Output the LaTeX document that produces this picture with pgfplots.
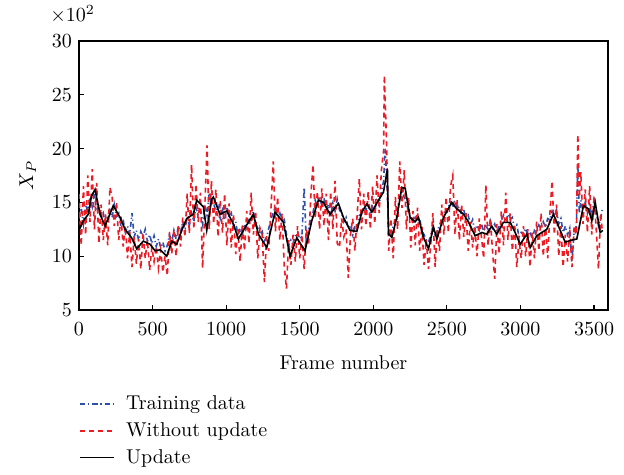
\documentclass[border=0pt]{standalone}
\usepackage{pgfplots}
\pgfplotsset{compat=1.18}
\definecolor{cred}{RGB}{237,28,36}
\definecolor{cblue}{RGB}{45,80,175}
\begin{document}
\begin{tikzpicture}
\begin{axis}[
  at={(0pt,0pt)}, anchor=south west,
  scale only axis, width=264.5pt, height=134.5pt,
  xmin=0, xmax=3595, ymin=5, ymax=30,
  xtick={0,500,1000,1500,2000,2500,3000,3500},
  ytick={5,10,15,20,25,30},
  /pgf/number format/1000 sep={},
  tick align=inside, xtick pos=left, ytick pos=left,
  major tick length=2.5pt,
  axis line style={line width=0.8pt},
  tick style={line width=0.6pt,black},
  xticklabel style={yshift=-3pt},
  xlabel={Frame number}, ylabel={$X_P$},
  xlabel style={yshift=-3pt},
  ylabel style={yshift=1pt},
  legend cell align=left,
  legend style={draw=none, at={(axis description cs:0,0)}, anchor=north west, yshift=-38.5pt, xshift=-3pt, row sep=1pt, font=\normalsize},
]
\addplot[cblue, line width=0.8pt, dash pattern=on 2.5pt off 1.5pt on 0.6pt off 1.5pt] coordinates {
(0,13.5)(15,14.5)(30,13.0)(45,14.8)(60,14.2)(75,15.5)(90,14.6)(105,15.8)(120,14.2)(135,14.8)(150,13.5)(165,14.0)(180,12.9)(195,13.8)(210,14.3)(225,13.6)(240,14.8)(255,13.7)(270,14.0)(285,12.8)(300,13.4)(315,12.2)(330,12.8)(345,12.0)(360,14.0)(375,11.8)(390,12.4)(405,11.5)(420,12.3)(435,11.8)(450,12.5)(465,11.4)(480,12.0)(495,11.2)(510,11.9)(525,10.9)(540,11.6)(555,10.8)(570,11.3)(585,10.5)(600,11.0)(615,12.0)(630,11.3)(645,12.4)(660,11.6)(675,12.8)(690,12.2)(705,13.2)(720,12.5)(735,13.6)(750,12.9)(765,14.0)(780,13.2)(795,14.5)(810,13.8)(825,14.2)(840,13.0)(855,14.8)(870,13.8)(885,15.9)(900,14.8)(915,15.0)(930,14.0)(945,14.6)(960,13.5)(975,14.3)(990,13.4)(1005,14.6)(1020,13.6)(1035,14.0)(1050,12.8)(1065,13.2)(1080,11.9)(1095,12.6)(1110,12.0)(1125,13.0)(1140,12.4)(1155,13.6)(1170,13.2)(1185,14.2)(1200,13.0)(1215,12.6)(1230,12.0)(1245,12.3)(1260,11.4)(1275,11.8)(1290,12.6)(1305,13.5)(1320,14.0)(1335,14.6)(1350,13.7)(1365,14.0)(1380,13.2)(1395,13.4)(1410,12.0)(1425,11.0)(1440,11.5)(1455,11.2)(1470,11.9)(1485,12.2)(1500,11.6)(1515,11.9)(1530,16.4)(1545,11.2)(1560,12.5)(1575,13.5)(1590,14.0)(1605,15.2)(1620,14.6)(1635,15.6)(1650,14.7)(1665,15.4)(1680,14.3)(1695,14.8)(1710,13.6)(1725,14.9)(1740,14.2)(1755,15.3)(1770,14.3)(1785,14.0)(1800,13.2)(1815,13.6)(1830,12.6)(1845,12.9)(1860,12.0)(1875,12.8)(1890,12.4)(1905,13.8)(1920,13.9)(1935,14.6)(1950,14.3)(1965,15.0)(1980,14.0)(1995,14.6)(2010,14.2)(2025,15.4)(2040,14.8)(2055,16.0)(2070,17.0)(2080,20.0)(2090,17.5)(2105,12.5)(2120,12.0)(2135,12.8)(2150,13.3)(2165,14.2)(2180,15.5)(2195,16.0)(2210,15.5)(2225,15.0)(2240,14.0)(2255,13.8)(2270,13.0)(2285,13.6)(2300,13.2)(2315,13.5)(2330,12.4)(2345,12.0)(2360,11.5)(2375,11.3)(2390,11.9)(2405,12.8)(2420,12.0)(2435,12.3)(2450,12.9)(2465,13.4)(2480,13.8)(2495,14.3)(2510,14.6)(2525,15.0)(2540,14.7)(2555,15.2)(2570,14.4)(2585,14.6)(2600,13.8)(2615,14.3)(2630,13.5)(2645,13.8)(2660,12.9)(2675,13.4)(2690,12.3)(2705,12.9)(2720,12.4)(2735,13.0)(2750,12.3)(2765,12.8)(2780,12.5)(2795,13.3)(2810,12.6)(2825,13.0)(2840,12.2)(2855,12.8)(2870,13.3)(2885,13.8)(2900,13.2)(2915,13.9)(2930,13.4)(2945,13.6)(2960,12.5)(2975,12.9)(2990,11.8)(3005,12.2)(3020,12.0)(3035,12.6)(3050,11.9)(3065,12.3)(3080,11.6)(3095,12.4)(3110,12.2)(3125,12.9)(3140,12.6)(3155,13.2)(3170,12.7)(3185,13.5)(3200,13.4)(3215,14.2)(3230,13.8)(3245,14.3)(3260,13.0)(3275,13.5)(3290,12.2)(3305,12.8)(3320,12.0)(3335,12.6)(3350,9.5)(3365,12.3)(3380,12.8)(3390,18.6)(3400,14.0)(3410,15.2)(3425,14.3)(3440,15.0)(3455,14.0)(3470,14.8)(3485,13.6)(3500,15.2)(3515,14.0)(3530,12.8)(3545,13.5)(3555,14.3)
};
\addlegendentry{\hspace{3.5pt}Training data}
\addplot[cred, line width=0.8pt, dash pattern=on 2.5pt off 2pt] coordinates {
(0,15.8)(15,11.0)(30,16.5)(45,12.0)(60,17.5)(75,13.2)(90,18.1)(105,12.5)(120,16.8)(135,11.2)(150,14.8)(165,11.5)(180,13.9)(195,11.0)(210,16.4)(225,15.5)(240,12.8)(255,15.0)(270,11.5)(285,13.8)(300,10.9)(315,12.8)(330,9.8)(345,12.3)(360,9.0)(375,11.8)(390,9.3)(405,11.6)(420,8.8)(435,12.2)(450,9.8)(465,11.5)(480,8.7)(495,10.8)(510,9.5)(525,10.9)(540,8.9)(555,10.6)(570,8.5)(585,10.0)(600,8.2)(615,12.2)(630,10.2)(645,12.5)(660,10.0)(675,12.8)(690,10.9)(705,13.6)(720,11.8)(735,15.8)(750,12.1)(765,18.5)(780,12.5)(795,16.7)(810,13.2)(825,15.9)(840,8.9)(855,14.5)(870,20.3)(885,12.5)(900,17.0)(915,13.0)(930,16.2)(945,11.8)(960,15.2)(975,12.2)(990,15.8)(1005,11.0)(1020,14.9)(1035,10.8)(1050,13.9)(1065,10.2)(1080,12.5)(1095,9.5)(1110,13.0)(1125,10.5)(1140,14.2)(1155,11.2)(1170,15.9)(1185,12.0)(1200,14.2)(1215,9.8)(1230,12.6)(1245,12.0)(1260,7.6)(1275,11.9)(1290,10.5)(1305,14.5)(1320,18.8)(1335,12.3)(1350,15.5)(1365,11.5)(1380,14.0)(1395,9.0)(1410,7.0)(1425,11.5)(1440,9.2)(1455,12.0)(1470,9.5)(1485,12.8)(1500,9.8)(1515,12.0)(1530,8.8)(1545,12.5)(1560,11.0)(1575,15.5)(1590,18.5)(1605,13.5)(1620,16.0)(1635,12.5)(1650,16.3)(1665,12.8)(1680,15.8)(1695,11.5)(1710,16.0)(1725,12.5)(1740,17.0)(1755,11.2)(1770,10.8)(1785,13.5)(1800,11.8)(1815,12.5)(1830,8.0)(1845,12.0)(1860,13.5)(1875,10.5)(1890,13.8)(1905,17.2)(1920,12.5)(1935,15.8)(1950,12.8)(1965,16.0)(1980,12.5)(1995,16.5)(2010,13.0)(2025,17.5)(2040,14.0)(2055,18.0)(2070,19.8)(2075,26.8)(2090,20.5)(2105,10.5)(2120,13.5)(2135,9.8)(2150,15.5)(2165,12.5)(2180,18.8)(2195,14.5)(2210,18.0)(2225,12.5)(2240,15.5)(2255,10.8)(2270,14.2)(2285,11.0)(2300,14.5)(2315,10.5)(2330,12.8)(2345,9.2)(2360,11.5)(2375,8.8)(2390,11.0)(2405,14.0)(2420,9.0)(2435,12.5)(2450,10.5)(2465,14.8)(2480,12.0)(2495,15.5)(2510,12.2)(2525,16.5)(2540,17.5)(2555,12.0)(2570,15.2)(2585,11.5)(2600,14.8)(2615,11.8)(2630,14.0)(2645,10.5)(2660,13.2)(2675,10.8)(2690,12.8)(2705,10.0)(2720,13.5)(2735,11.8)(2750,9.8)(2765,16.6)(2780,11.0)(2795,13.5)(2810,10.5)(2825,7.9)(2840,13.0)(2855,10.2)(2870,14.2)(2885,11.0)(2900,15.9)(2915,11.5)(2930,14.0)(2945,10.5)(2960,13.0)(2975,9.0)(2990,11.5)(3005,9.8)(3020,12.8)(3035,10.0)(3050,12.5)(3065,9.0)(3080,12.2)(3095,9.8)(3110,13.2)(3125,10.5)(3140,14.0)(3155,10.0)(3170,13.0)(3185,9.8)(3200,14.0)(3215,17.0)(3230,12.0)(3245,14.8)(3260,10.0)(3275,12.8)(3290,9.0)(3305,12.0)(3320,9.5)(3335,12.5)(3350,9.0)(3365,12.8)(3380,12.0)(3390,21.3)(3400,15.5)(3410,17.8)(3425,13.0)(3440,16.2)(3455,12.2)(3470,16.5)(3485,12.0)(3500,15.5)(3515,12.5)(3530,8.8)(3545,14.0)(3555,12.5)
};
\addlegendentry{\hspace{3.5pt}Without update}
\addplot[black, line width=0.8pt] coordinates {
(0,12.4)(30,13.3)(63,13.9)(85,15.6)(109,16.2)(143,13.9)(177,12.8)(233,14.7)(279,13.6)(313,12.5)(358,11.7)(392,10.7)(437,11.4)(483,11.1)(517,10.5)(551,10.6)(596,10.0)(630,11.4)(664,11.1)(698,12.4)(732,13.5)(777,13.9)(800,15.2)(845,14.6)(868,12.4)(902,15.3)(913,15.5)(958,13.9)(1004,14.2)(1049,13.0)(1083,11.6)(1117,12.4)(1185,13.9)(1219,12.05)(1276,10.8)(1332,14.1)(1389,13.15)(1434,10.0)(1480,11.7)(1536,10.5)(1582,13.3)(1627,15.2)(1661,15.0)(1706,13.9)(1763,14.9)(1797,13.6)(1842,12.4)(1888,12.3)(1922,14.1)(1956,14.85)(1990,14.1)(2035,15.2)(2069,15.95)(2096,18.1)(2103,12.05)(2126,11.75)(2160,13.6)(2194,16.4)(2217,16.3)(2250,13.6)(2284,13.2)(2307,13.6)(2341,11.75)(2375,10.7)(2409,12.7)(2432,11.6)(2477,13.6)(2533,15.0)(2567,14.4)(2613,13.9)(2646,13.2)(2692,11.9)(2738,12.2)(2771,12.05)(2805,12.8)(2839,12.05)(2884,13.15)(2930,13.15)(2964,12.2)(2998,11.1)(3043,12.05)(3066,10.8)(3111,11.9)(3179,12.5)(3224,13.9)(3258,12.8)(3304,11.3)(3349,11.5)(3383,11.6)(3428,14.7)(3462,14.4)(3485,13.3)(3508,15.0)(3542,12.2)(3560,12.4)
};
\addlegendentry{\hspace{3.5pt}Update}
\end{axis}
\node[anchor=base west, inner sep=0pt] at (-14.5pt,144pt) {$\times10^{2}$};
\path (-39.5pt,-79.5pt) rectangle (272.5pt,155pt);
\end{tikzpicture}
\end{document}
